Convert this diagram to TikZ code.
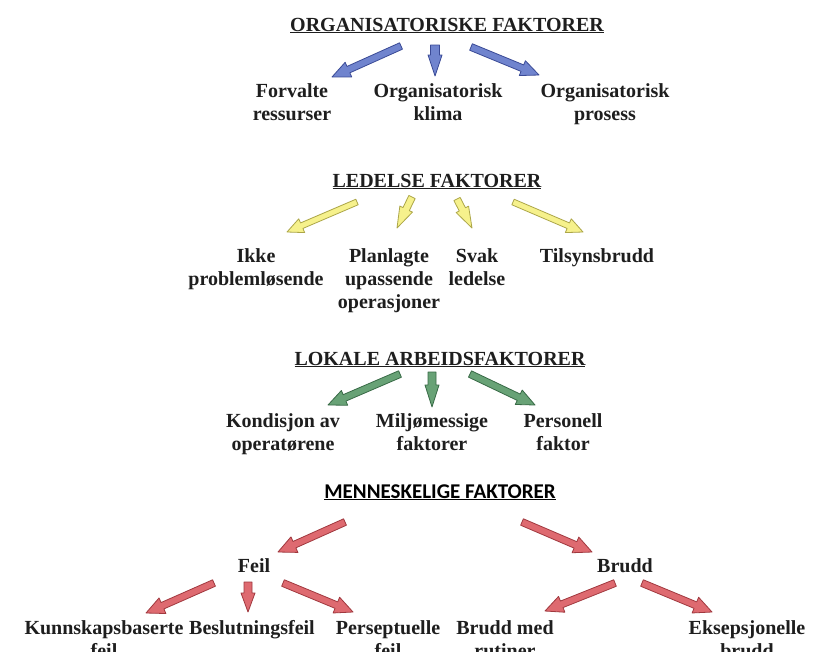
\documentclass[tikz,border=0pt]{standalone}
\usepackage{fontspec}
\setmainfont{Liberation Serif}
\newfontfamily\headsans{Carlito}
\usetikzlibrary{calc}

\definecolor{ink}{RGB}{30,30,30}
\definecolor{orgfill}{RGB}{112,132,206}
\definecolor{orgline}{RGB}{58,74,150}
\definecolor{ledfill}{RGB}{246,241,140}
\definecolor{ledline}{RGB}{172,166,72}
\definecolor{lokfill}{RGB}{104,162,118}
\definecolor{lokline}{RGB}{56,106,70}
\definecolor{menfill}{RGB}{222,106,112}
\definecolor{menline}{RGB}{160,56,62}

% block arrow: style, from, to, shaft half width, head half width, head length
\newcommand{\factorarrow}[6]{%
  \coordinate (fahead) at ($(#3)!#6!(#2)$);
  \filldraw[#1] ($(#2)!#4!90:(#3)$) -- ($(fahead)!#4!-90:(#2)$)
    -- ($(fahead)!#5!-90:(#2)$) -- (#3) -- ($(fahead)!#5!90:(#2)$)
    -- ($(fahead)!#4!90:(#2)$) -- ($(#2)!#4!-90:(#3)$) -- cycle;
}

\begin{document}
\begin{tikzpicture}[x=1pt, y=-1pt,
  factor/.style={font=\fontsize{20}{23}\selectfont\bfseries, text=ink,
                 align=center, anchor=base, inner sep=0pt},
  heading/.style={factor},
  orgarrow/.style={fill=orgfill, draw=orgline, line width=0.8pt, line join=round},
  ledarrow/.style={fill=ledfill, draw=ledline, line width=0.8pt, line join=round},
  lokarrow/.style={fill=lokfill, draw=lokline, line width=0.8pt, line join=round},
  menarrow/.style={fill=menfill, draw=menline, line width=0.8pt, line join=round},
]
  \clip (0,0) rectangle (829,651);
  \fill[white] (0,0) rectangle (829,651);

  % organisatoriske faktorer (base = last line)
  \node[heading] (org)     at (447,31)  {\underline{ORGANISATORISKE FAKTORER}};
  \node[factor]  (forv)    at (292,120) {Forvalte\\ressurser};
  \node[factor]  (klima)   at (438,120) {Organisatorisk\\klima};
  \node[factor]  (prosess) at (605,120) {Organisatorisk\\prosess};
  \coordinate (o1s) at (401,46); \coordinate (o1e) at (332,77);
  \coordinate (o2s) at (435,45); \coordinate (o2e) at (435,76);
  \coordinate (o3s) at (471,47); \coordinate (o3e) at (539,75);
  \factorarrow{orgarrow}{o1s}{o1e}{3.5pt}{8pt}{18pt}
  \factorarrow{orgarrow}{o2s}{o2e}{4.5pt}{7pt}{21pt}
  \factorarrow{orgarrow}{o3s}{o3e}{3.5pt}{8pt}{18pt}

  % ledelse faktorer
  \node[heading] (led)     at (437,187) {\underline{LEDELSE FAKTORER}};
  \node[factor]  (ikke)    at (256,285) {Ikke\\problemløsende};
  \node[factor]  (plan)    at (389,308) {Planlagte\\upassende\\operasjoner};
  \node[factor]  (svak)    at (477,285) {Svak\\ledelse};
  \node[factor]  (tilsyn)  at (597,262) {Tilsynsbrudd};
  \coordinate (l1s) at (357,202); \coordinate (l1e) at (287,232);
  \coordinate (l2s) at (412,197); \coordinate (l2e) at (397,228);
  \coordinate (l3s) at (457,199); \coordinate (l3e) at (472,228);
  \coordinate (l4s) at (513,202); \coordinate (l4e) at (583,232);
  \factorarrow{ledarrow}{l1s}{l1e}{3pt}{7.5pt}{16pt}
  \factorarrow{ledarrow}{l2s}{l2e}{3.5pt}{7pt}{21pt}
  \factorarrow{ledarrow}{l3s}{l3e}{3.5pt}{7pt}{21pt}
  \factorarrow{ledarrow}{l4s}{l4e}{3pt}{7.5pt}{16pt}

  % lokale arbeidsfaktorer
  \node[heading] (lok)     at (440,365) {\underline{LOKALE ARBEIDSFAKTORER}};
  \node[factor]  (kond)    at (283,450) {Kondisjon av\\operatørene};
  \node[factor]  (milj)    at (432,450) {Miljømessige\\faktorer};
  \node[factor]  (pers)    at (563,450) {Personell\\faktor};
  \coordinate (a1s) at (400,374); \coordinate (a1e) at (328,405);
  \coordinate (a2s) at (432,372); \coordinate (a2e) at (432,407);
  \coordinate (a3s) at (470,374); \coordinate (a3e) at (535,405);
  \factorarrow{lokarrow}{a1s}{a1e}{3.5pt}{8pt}{18pt}
  \factorarrow{lokarrow}{a2s}{a2e}{4pt}{7pt}{22pt}
  \factorarrow{lokarrow}{a3s}{a3e}{3.5pt}{8pt}{18pt}

  % menneskelige faktorer
  \node[heading, font=\headsans\fontsize{21}{24}\selectfont\bfseries, text=black]
        (men)   at (440,498) {\underline{MENNESKELIGE FAKTORER}};
  \node[factor] (feil)  at (254,572) {Feil};
  \node[factor] (brudd) at (625,572) {Brudd};
  \node[factor] (kunn)  at (104,657) {Kunnskapsbaserte\\feil};
  \node[factor] (besl)  at (252,634) {Beslutningsfeil};
  \node[factor] (persf) at (388,657) {Perseptuelle\\feil};
  \node[factor] (bmed)  at (505,657) {Brudd med\\rutiner};
  \node[factor] (eks)   at (747,657) {Eksepsjonelle\\brudd};
  \coordinate (m1s) at (345,522); \coordinate (m1e) at (278,552);
  \coordinate (m2s) at (522,522); \coordinate (m2e) at (592,552);
  \coordinate (f1s) at (214,583); \coordinate (f1e) at (146,613);
  \coordinate (f2s) at (248,582); \coordinate (f2e) at (248,612);
  \coordinate (f3s) at (283,583); \coordinate (f3e) at (353,612);
  \coordinate (b1s) at (615,583); \coordinate (b1e) at (545,611);
  \coordinate (b2s) at (642,583); \coordinate (b2e) at (712,612);
  \factorarrow{menarrow}{m1s}{m1e}{3.5pt}{8.5pt}{18pt}
  \factorarrow{menarrow}{m2s}{m2e}{3.5pt}{8.5pt}{18pt}
  \factorarrow{menarrow}{f1s}{f1e}{3.5pt}{8.5pt}{18pt}
  \factorarrow{menarrow}{f2s}{f2e}{4pt}{7pt}{19pt}
  \factorarrow{menarrow}{f3s}{f3e}{3.5pt}{8.5pt}{18pt}
  \factorarrow{menarrow}{b1s}{b1e}{3.5pt}{8.5pt}{18pt}
  \factorarrow{menarrow}{b2s}{b2e}{3.5pt}{8.5pt}{18pt}
\end{tikzpicture}
\end{document}
